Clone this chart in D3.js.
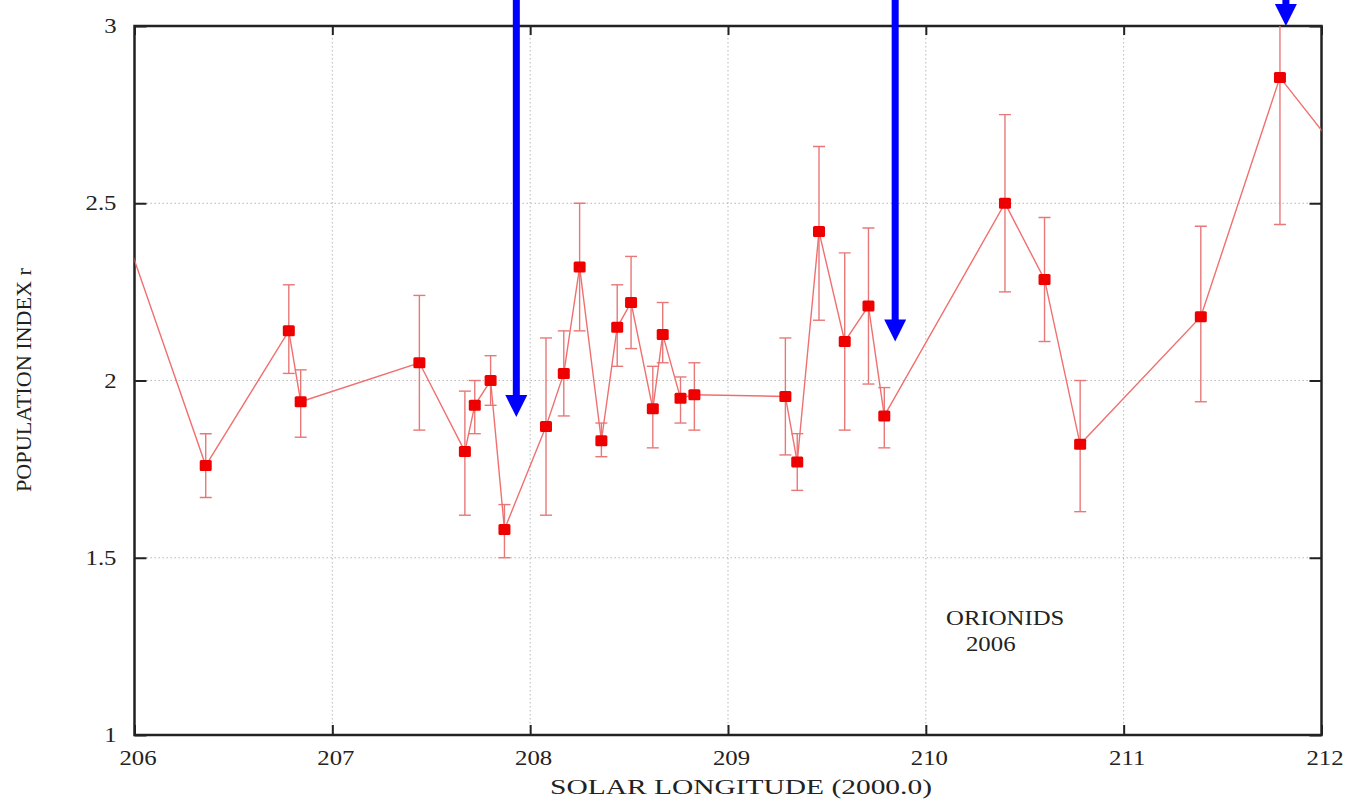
<!DOCTYPE html>
<html><head><meta charset="utf-8">
<script src="https://cdn.jsdelivr.net/npm/d3@7"></script>
<style>body{margin:0;background:#fff}svg{display:block}</style>
</head><body><svg id="c" width="1346" height="799"></svg>
<script>
// ---- data (solar longitude, population index r, error bar low/high) ----
const lon     = [205.90, 206.36, 206.78, 206.84, 207.44, 207.67, 207.72, 207.80, 207.87, 208.08, 208.17, 208.25, 208.36, 208.44, 208.51, 208.62, 208.67, 208.76, 208.83, 209.29, 209.35, 209.46, 209.59, 209.71, 209.79, 210.40, 210.60, 210.78, 211.39, 211.79, 212.10];
const rIndex  = [2.50, 1.76, 2.14, 1.94, 2.05, 1.80, 1.93, 2.00, 1.58, 1.87, 2.02, 2.32, 1.83, 2.15, 2.22, 1.92, 2.13, 1.95, 1.96, 1.955, 1.77, 2.42, 2.11, 2.21, 1.90, 2.50, 2.285, 1.82, 2.18, 2.855, 2.635];
const errLow  = [null, 1.67, 2.02, 1.84, 1.86, 1.62, 1.85, 1.93, 1.50, 1.62, 1.90, 2.14, 1.785, 2.04, 2.09, 1.81, 2.05, 1.88, 1.86, 1.79, 1.69, 2.17, 1.86, 1.99, 1.81, 2.25, 2.11, 1.63, 1.94, 2.44, null];
const errHigh = [null, 1.85, 2.27, 2.03, 2.24, 1.97, 2.00, 2.07, 1.65, 2.12, 2.14, 2.50, 1.88, 2.27, 2.35, 2.04, 2.22, 2.01, 2.05, 2.12, 1.85, 2.66, 2.36, 2.43, 1.98, 2.75, 2.46, 2.00, 2.435, 3.27, null];

const xTicks = [206, 207, 208, 209, 210, 211, 212];
const yTicks = [1, 1.5, 2, 2.5, 3];
const xTickLabels = ["206", "207", "208", "209", "210", "211", "212"];
const yTickLabels = ["1", "1.5", "2", "2.5", "3"];

const arrowLon = [207.93, 209.845, 211.82];
const arrowTip = [1.897, 2.11, 3.0];

const noteText = ["ORIONIDS", "2006"];
const noteLon  = [210.102, 210.203];
const noteR    = [1.31, 1.237];

const xTitle = "SOLAR LONGITUDE (2000.0)";
const yTitle = "POPULATION INDEX r";

// ---- drawing ----
const svg = d3.select("#c");
const L = 134.5, R = 1321.5, T = 26, B = 735;
const x = d3.scaleLinear().domain([206, 212]).range([L, R]);
const y = d3.scaleLinear().domain([1, 3]).range([B, T]);
const FONT = "'Liberation Serif','Times New Roman',serif";
const STRETCH = 1.18;

svg.append("defs").append("clipPath").attr("id", "clip")
  .append("rect").attr("x", L).attr("y", T).attr("width", R - L).attr("height", B - T);

// grid
const grid = svg.append("g").attr("stroke", "#b8b8b8").attr("stroke-width", 1).attr("stroke-dasharray", "1.5,2.5");
grid.selectAll(".gx").data(xTicks.slice(1, -1)).join("line")
  .attr("x1", d => x(d)).attr("x2", d => x(d)).attr("y1", T).attr("y2", B);
grid.selectAll(".gy").data(yTicks.slice(1, -1)).join("line")
  .attr("y1", d => y(d)).attr("y2", d => y(d)).attr("x1", L).attr("x2", R);

// axes
function styleAxis(g) {
  g.select(".domain").remove();
  g.selectAll(".tick line").attr("stroke", "#222").attr("stroke-width", 2);
  g.selectAll(".tick text").attr("fill", "#222").style("font-family", FONT).style("font-size", "21px");
}
const ax = svg.append("g").attr("transform", `translate(0,${B})`)
  .call(d3.axisBottom(x).tickValues(xTicks).tickFormat((d, i) => xTickLabels[i]).tickSizeInner(-10).tickSizeOuter(0).tickPadding(15))
  .call(styleAxis);
ax.selectAll(".tick text").attr("dx", 3);
const ay = svg.append("g").attr("transform", `translate(${L},0)`)
  .call(d3.axisLeft(y).tickValues(yTicks).tickFormat((d, i) => yTickLabels[i]).tickSizeInner(-12).tickSizeOuter(0).tickPadding(18))
  .call(styleAxis);
svg.append("g").attr("transform", `translate(0,${T})`)
  .call(d3.axisTop(x).tickValues(xTicks).tickFormat("").tickSizeInner(-9).tickSizeOuter(0)).call(styleAxis);
svg.append("g").attr("transform", `translate(${R},0)`)
  .call(d3.axisRight(y).tickValues(yTicks).tickFormat("").tickSizeInner(-12).tickSizeOuter(0)).call(styleAxis);
[ax, ay].forEach(g => g.selectAll(".tick text").each(function () {
  const w = this.getComputedTextLength();
  d3.select(this).attr("textLength", w * STRETCH).attr("lengthAdjust", "spacingAndGlyphs");
}));

// frame
svg.append("rect").attr("x", L).attr("y", T).attr("width", R - L).attr("height", B - T)
  .attr("fill", "none").attr("stroke", "#222").attr("stroke-width", 2.5);

// data
const pts = lon.map((d, i) => ({ x: d, r: rIndex[i], lo: errLow[i], hi: errHigh[i] }));
const plot = svg.append("g").attr("clip-path", "url(#clip)");
const eb = plot.append("g").attr("stroke", "#e87878").attr("stroke-width", 1.4);
const withErr = pts.filter(p => p.lo != null);
eb.selectAll(".v").data(withErr).join("line")
  .attr("x1", p => x(p.x)).attr("x2", p => x(p.x)).attr("y1", p => y(p.lo)).attr("y2", p => y(p.hi));
eb.selectAll(".c1").data(withErr).join("line")
  .attr("x1", p => x(p.x) - 6).attr("x2", p => x(p.x) + 6).attr("y1", p => y(p.lo)).attr("y2", p => y(p.lo));
eb.selectAll(".c2").data(withErr).join("line")
  .attr("x1", p => x(p.x) - 6).attr("x2", p => x(p.x) + 6).attr("y1", p => y(p.hi)).attr("y2", p => y(p.hi));

plot.append("path").datum(pts)
  .attr("d", d3.line().x(p => x(p.x)).y(p => y(p.r)))
  .attr("fill", "none").attr("stroke", "#f07070").attr("stroke-width", 1.4);

plot.selectAll(".m").data(pts).join("rect")
  .attr("x", p => x(p.x) - 6).attr("y", p => y(p.r) - 5.5)
  .attr("width", 12).attr("height", 11).attr("rx", 1.5)
  .attr("fill", "#ee0000");

// annotation text
svg.selectAll(".note").data(noteText).join("text")
  .attr("x", (d, i) => x(noteLon[i])).attr("y", (d, i) => y(noteR[i]))
  .attr("fill", "#222").style("font-family", FONT).style("font-size", "21px")
  .text(d => d)
  .each(function () {
    const w = this.getComputedTextLength();
    d3.select(this).attr("textLength", w * STRETCH).attr("lengthAdjust", "spacingAndGlyphs");
  });

// arrows
const arrows = svg.append("g").attr("fill", "#0000ff");
arrows.selectAll(".shaft").data(arrowLon).join("rect")
  .attr("x", d => x(d) - 3.5).attr("y", 0).attr("width", 7)
  .attr("height", (d, i) => Math.max(0, y(arrowTip[i]) - 20));
arrows.selectAll(".head").data(arrowLon).join("path")
  .attr("d", (d, i) => {
    const cx = x(d), ty = y(arrowTip[i]);
    return `M${cx - 11},${ty - 22}L${cx + 11},${ty - 22}L${cx},${ty}Z`;
  });

// titles
svg.append("text").attr("x", 741).attr("y", 794).attr("text-anchor", "middle")
  .attr("fill", "#222").style("font-family", FONT).style("font-size", "20px")
  .attr("textLength", 382).attr("lengthAdjust", "spacingAndGlyphs").text(xTitle);
svg.append("text").attr("transform", "translate(31,380) rotate(-90)").attr("text-anchor", "middle")
  .attr("fill", "#222").style("font-family", FONT).style("font-size", "21px")
  .attr("textLength", 224).attr("lengthAdjust", "spacingAndGlyphs").text(yTitle);
</script></body></html>
